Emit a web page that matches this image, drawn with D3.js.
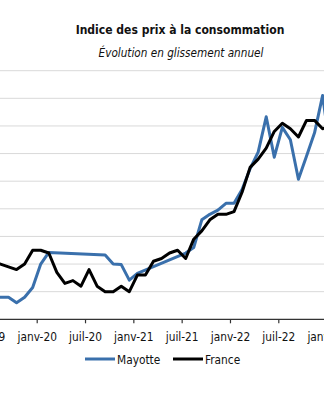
<!DOCTYPE html>
<html>
<head>
<meta charset="utf-8">
<script src="https://cdn.jsdelivr.net/npm/d3@7"></script>
<style>
  html, body { margin: 0; padding: 0; background: #fff; overflow: hidden; }
  svg { display: block; }
  text { font-family: 'DejaVu Sans Condensed', 'DejaVu Sans', sans-serif; font-stretch: condensed; }
</style>
</head>
<body>
<script>
// ---- Data ----
const months = [
  "2019-07","2019-08","2019-09","2019-10","2019-11","2019-12",
  "2020-01","2020-02","2020-03","2020-04","2020-05","2020-06",
  "2020-07","2020-08","2020-09","2020-10","2020-11","2020-12",
  "2021-01","2021-02","2021-03","2021-04","2021-05","2021-06",
  "2021-07","2021-08","2021-09","2021-10","2021-11","2021-12",
  "2022-01","2022-02","2022-03","2022-04","2022-05","2022-06",
  "2022-07","2022-08","2022-09","2022-10","2022-11","2022-12",
  "2023-01"
];
const mayotte = [
  -0.2, -0.2, -0.2, -0.4, -0.2, 0.15,
  1.0, 1.42, null, null, null, null,
  null, null, 1.33, 1.0, 0.98, 0.42,
  0.66, null, null, null, null, null,
  1.4, 1.6, 2.6, 2.8, 2.95, 3.2,
  3.2, 3.7, 4.45, 5.05, 6.33, 4.87,
  5.95, 5.5, 4.07, 4.9, 5.75, 7.1,
  5.0
];
const france = [
  1.0, 1.0, 0.9, 0.8, 1.0, 1.5,
  1.5, 1.4, 0.7, 0.3, 0.4, 0.2,
  0.8, 0.2, 0.0, 0.0, 0.2, 0.0,
  0.6, 0.6, 1.1, 1.2, 1.4, 1.5,
  1.2, 1.9, 2.2, 2.6, 2.8, 2.8,
  2.9, 3.6, 4.5, 4.8, 5.2, 5.8,
  6.1, 5.9, 5.6, 6.2, 6.2, 5.9,
  6.0
];
const tickLabels = ["juil-19","janv-20","juil-20","janv-21","juil-21","janv-22","juil-22","janv-23"];
const tickMonths = ["2019-07","2020-01","2020-07","2021-01","2021-07","2022-01","2022-07","2023-01"];
const yTicks = [0, 1, 2, 3, 4, 5, 6, 7, 8];
const seriesNames = ["Mayotte", "France"];
const colors = ["#3A70AC", "#000000"];
const title = "Indice des prix à la consommation";
const subtitle = "Évolution en glissement annuel";

// ---- Layout ----
const W = 324, H = 400;
const svg = d3.select("body").append("svg").attr("width", W).attr("height", H);

// month index relative to Jan 2020
const mIndex = s => { const [y, m] = s.split("-").map(Number); return (y - 2020) * 12 + (m - 1); };

const x = d3.scaleLinear().domain([0, 30]).range([36.7, 278.3]);
const y = d3.scaleLinear().domain([-1, 8]).range([319.3, 70.7]);

// gridlines
svg.append("g").selectAll("line").data(yTicks).join("line")
  .attr("x1", 0).attr("x2", W)
  .attr("y1", d => y(d)).attr("y2", d => y(d))
  .attr("stroke", "#d9d9d9").attr("stroke-width", 1);

// x axis
const xAxis = d3.axisBottom(x)
  .tickValues(tickMonths.map(mIndex))
  .tickFormat((d, i) => tickLabels[i])
  .tickSizeInner(4).tickSizeOuter(0).tickPadding(9);
const gx = svg.append("g").attr("transform", `translate(0,${y(-1)})`).call(xAxis);
gx.select(".domain").attr("d", `M0,0H${W}`).attr("stroke", "#333").attr("stroke-width", 1.3);
gx.selectAll(".tick line").attr("stroke", "#333").attr("stroke-width", 1.2);
gx.selectAll(".tick text").attr("font-size", 11.8).attr("fill", "#111")
  .style("font-family", "'DejaVu Sans Condensed', 'DejaVu Sans', sans-serif");

// lines
const line = d3.line()
  .x(d => x(d.m + 0.5))
  .y(d => y(d.v));
[mayotte, france].forEach((vals, i) => {
  const pts = months.map((s, k) => ({ m: mIndex(s), v: vals[k] })).filter(d => d.v !== null);
  svg.append("path").datum(pts)
    .attr("d", line)
    .attr("fill", "none")
    .attr("stroke", colors[i])
    .attr("stroke-width", 3)
    .attr("stroke-linejoin", "round");
});

// titles
function fit(sel, target) {
  const len = sel.node().getComputedTextLength();
  const fs = parseFloat(sel.attr("font-size"));
  sel.attr("font-size", fs * target / len);
}
const t1 = svg.append("text").attr("x", 180).attr("y", 33.5).attr("text-anchor", "middle")
  .attr("font-size", 13).attr("font-weight", "bold").attr("fill", "#111").text(title);
fit(t1, 209);
const t2 = svg.append("text").attr("x", 181).attr("y", 57).attr("text-anchor", "middle")
  .attr("font-size", 12).attr("font-style", "italic").attr("fill", "#111").text(subtitle);
fit(t2, 165);

// legend
const legendItems = [{ x: 85, name: seriesNames[0], c: colors[0] }, { x: 173, name: seriesNames[1], c: colors[1] }];
const lg = svg.append("g");
legendItems.forEach(it => {
  lg.append("line").attr("x1", it.x).attr("x2", it.x + 30).attr("y1", 359).attr("y2", 359)
    .attr("stroke", it.c).attr("stroke-width", 3);
  lg.append("text").attr("x", it.x + 32).attr("y", 363.5).attr("font-size", 11.8).attr("fill", "#111").text(it.name);
});
</script>
</body>
</html>
